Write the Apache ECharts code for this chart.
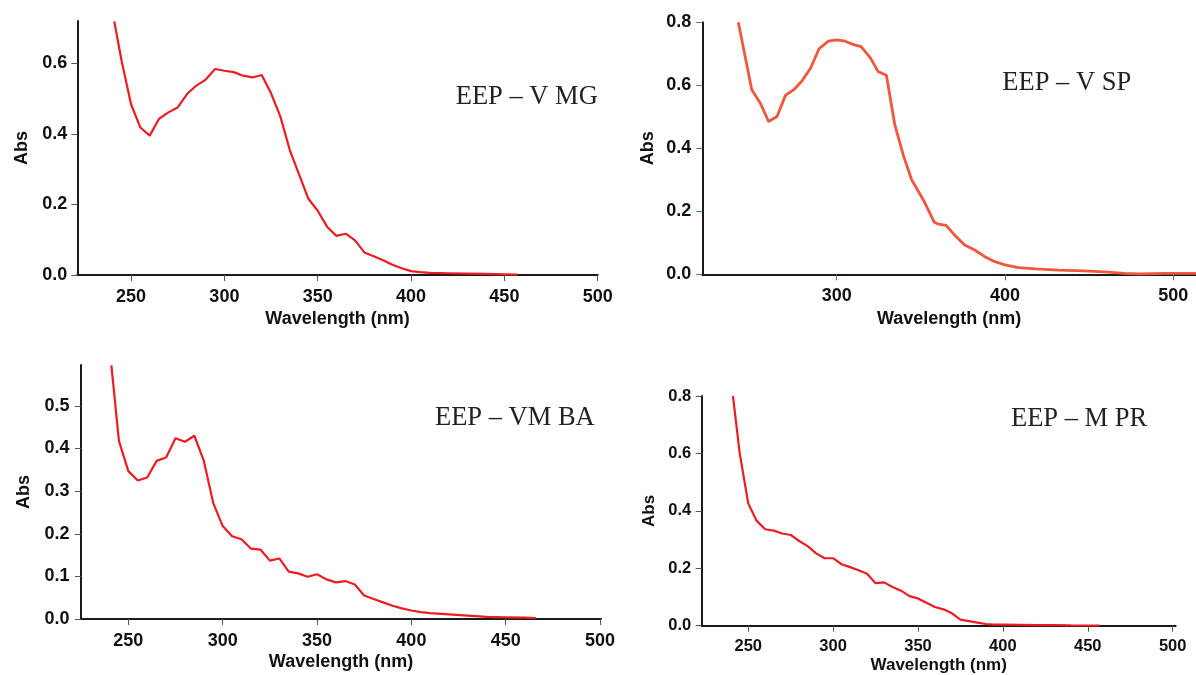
<!DOCTYPE html>
<html><head><meta charset="utf-8">
<script src="https://cdn.jsdelivr.net/npm/echarts@6/dist/echarts.min.js"></script>
<style>html,body{margin:0;padding:0;background:#fff}#c{width:1196px;height:675px}</style>
</head><body><div id="c"></div>
<script>
// ---- data ----
const mgWl  = [241,245,250,255,260,265,270,275,280,285,290,295,300,305,310,315,320,325,330,335,340,345,350,355,360,365,370,375,380,385,390,395,400,405,410,420,430,440,450,457];
const mgAbs = [0.719,0.605,0.484,0.418,0.395,0.443,0.461,0.475,0.513,0.537,0.554,0.584,0.579,0.575,0.565,0.560,0.567,0.515,0.449,0.355,0.285,0.216,0.182,0.137,0.111,0.117,0.098,0.064,0.053,0.042,0.029,0.019,0.011,0.008,0.006,0.005,0.004,0.003,0.002,0.001];

const spWl  = [241.5,249.5,254.5,259.5,264.5,269.5,274.5,279.5,284.5,289.5,295,300,305,310,314.5,320,324.5,329.5,334.5,339.5,344.5,352,358,360.5,365,370,376,382,388,394,400,408,418,432,447,459,471,480,495,514];
const spAbs = [0.800,0.586,0.544,0.485,0.501,0.568,0.586,0.615,0.655,0.716,0.740,0.744,0.740,0.729,0.723,0.687,0.644,0.632,0.475,0.379,0.300,0.231,0.165,0.159,0.155,0.125,0.093,0.077,0.056,0.040,0.030,0.021,0.017,0.013,0.011,0.008,0.003,0.001,0.003,0.003];

const baWl  = [241,245,250,255,260,265,270,275,280,285,290,295,300,305,310,315,320,325,330,335,340,345,350,355,360,365,370,375,380,385,390,395,400,405,410,420,430,440,450,460,466];
const baAbs = [0.595,0.418,0.347,0.325,0.332,0.371,0.379,0.424,0.416,0.430,0.371,0.272,0.218,0.194,0.187,0.165,0.163,0.137,0.142,0.111,0.107,0.099,0.105,0.093,0.086,0.089,0.081,0.055,0.047,0.039,0.031,0.025,0.020,0.016,0.014,0.011,0.008,0.005,0.004,0.003,0.002];

const prWl  = [241,245,250,255,260,265,270,275,280,285,290,295,300,305,310,315,320,325,330,335,340,345,350,355,360,365,370,375,380,385,390,395,400,410,420,430,440,450,457];
const prAbs = [0.800,0.600,0.426,0.365,0.336,0.331,0.321,0.316,0.295,0.277,0.252,0.235,0.235,0.214,0.204,0.193,0.181,0.148,0.151,0.135,0.122,0.103,0.095,0.080,0.065,0.057,0.043,0.021,0.016,0.011,0.006,0.004,0.004,0.003,0.002,0.002,0.001,0.0005,0.0];

const xTicks50  = [250,300,350,400,450,500];
const xTicks100 = [300,400,500];
const yTicksMG = [0,0.2,0.4,0.6];
const yTicksSP = [0,0.2,0.4,0.6,0.8];
const yTicksBA = [0,0.1,0.2,0.3,0.4,0.5];
const yTicksPR = [0,0.2,0.4,0.6,0.8];

const labelsText = ['EEP \u2013 V MG','EEP \u2013 V SP','EEP \u2013 VM BA','EEP \u2013 M PR'];
const xName = 'Wavelength (nm)';
const yName = 'Abs';

// ---- layout / style ----
const panels = [
  {wl:mgWl, ab:mgAbs, xt:xTicks50,  yt:yTicksMG, xmin:221.2, xmax:500,   ymax:0.72,
   grid:{left:77.3, top:21,   width:520.4, height:254}, color:'#ec1c24', lw:2.2,
   fs:18, nfs:18, yGap:46, xGap:35, xMargin:13, yMargin:10, tickColor:'#555',
   txt:{x:455.7, y:97}},
  {wl:spWl, ab:spAbs, xt:xTicks100, yt:yTicksSP, xmin:220.1, xmax:513.5, ymax:0.8,
   grid:{left:702.3, top:22.3, width:493.7, height:252}, color:'#f0573c', lw:2.8,
   fs:18, nfs:18, yGap:45, xGap:35.5, xMargin:13, yMargin:11, tickColor:'#3f7f8c',
   txt:{x:1002.3, y:83.5}},
  {wl:baWl, ab:baAbs, xt:xTicks50,  yt:yTicksBA, xmin:224.9, xmax:500.5, ymax:0.596,
   grid:{left:81, top:365, width:520, height:254}, color:'#ec1c24', lw:2.2,
   fs:18, nfs:18, yGap:48, xGap:34.5, xMargin:13.5, yMargin:11.5, tickColor:'#555',
   txt:{x:435, y:418.5}},
  {wl:prWl, ab:prAbs, xt:xTicks50,  yt:yTicksPR, xmin:222.6, xmax:501.8, ymax:0.8,
   grid:{left:701.7, top:396, width:474, height:229.7}, color:'#ec1c24', lw:2.2,
   fs:16.5, nfs:17, yGap:43.5, xGap:31, xMargin:12, yMargin:10.5, tickColor:'#555',
   txt:{x:1011, y:419.5}}
];

const font = 'Liberation Sans, Arial, sans-serif';
const grids = [], xAxes = [], yAxes = [], series = [], graphics = [];
panels.forEach((p, i) => {
  grids.push(Object.assign({containLabel:false}, p.grid));
  xAxes.push({
    type:'value', gridIndex:i, min:p.xmin, max:p.xmax,
    name:xName, nameLocation:'middle', nameGap:p.xGap,
    nameTextStyle:{fontFamily:font, fontWeight:'bold', fontSize:p.nfs, color:'#111'},
    axisLine:{show:true, onZero:false, lineStyle:{color:'#1a1a1a', width:2}},
    axisTick:{show:true, customValues:p.xt, length:6, lineStyle:{color:p.tickColor, width:1}},
    axisLabel:{customValues:p.xt, margin:p.xMargin, fontFamily:font, fontWeight:'bold', fontSize:p.fs, color:'#111',
      formatter:v => String(Math.round(v))},
    splitLine:{show:false}
  });
  yAxes.push({
    type:'value', gridIndex:i, min:0, max:p.ymax,
    name:yName, nameLocation:'middle', nameGap:p.yGap,
    nameTextStyle:{fontFamily:font, fontWeight:'bold', fontSize:p.nfs, color:'#111'},
    axisLine:{show:true, onZero:false, lineStyle:{color:'#1a1a1a', width:2}},
    axisTick:{show:true, customValues:p.yt, length:6, lineStyle:{color:p.tickColor, width:1}},
    axisLabel:{customValues:p.yt, margin:p.yMargin, fontFamily:font, fontWeight:'bold', fontSize:p.fs, color:'#111',
      formatter:v => v.toFixed(1)},
    splitLine:{show:false}
  });
  series.push({
    type:'line', xAxisIndex:i, yAxisIndex:i, showSymbol:false, symbol:'none', smooth:false,
    lineStyle:{color:p.color, width:p.lw}, animation:false,
    data:p.wl.map((w, k) => [w, p.ab[k]])
  });
  graphics.push({
    type:'text', x:p.txt.x, y:p.txt.y,
    style:{text:labelsText[i], font:'26.5px "Liberation Serif", "Times New Roman", serif', fill:'#222',
      textAlign:'left', textVerticalAlign:'middle', verticalAlign:'middle'}
  });
});

const chart = echarts.init(document.getElementById('c'), null, {renderer:'canvas'});
chart.setOption({
  animation:false, backgroundColor:'#fff',
  grid:grids, xAxis:xAxes, yAxis:yAxes, series:series, graphic:graphics
});
</script></body></html>
